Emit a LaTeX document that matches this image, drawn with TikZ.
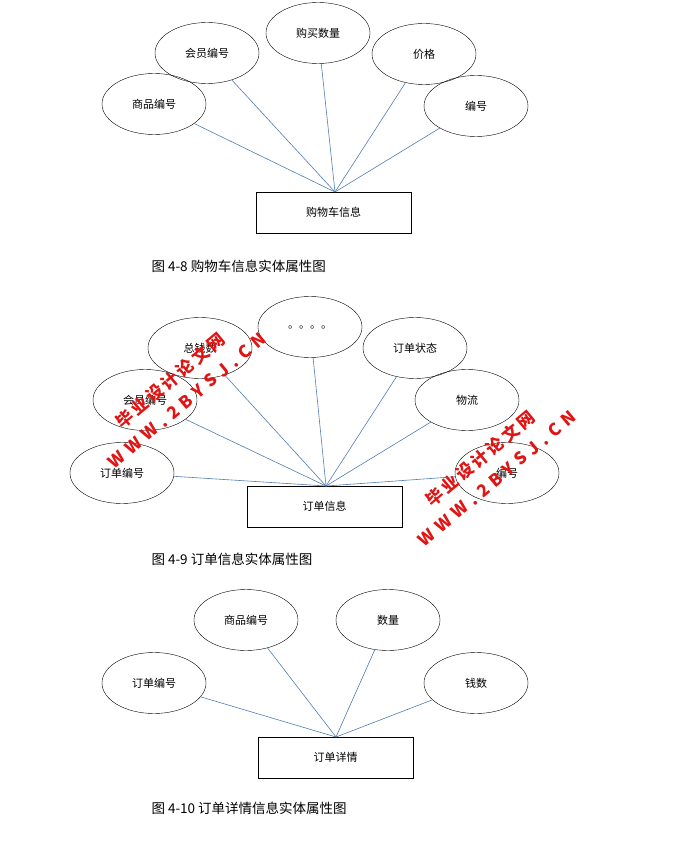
\documentclass[tikz,border=0pt]{standalone}
\usepackage{fontspec}
\setmainfont{Noto Sans CJK SC}
\usetikzlibrary{shapes.geometric}
\definecolor{linkc}{RGB}{80,126,180}
\definecolor{wmred}{RGB}{225,20,20}
\begin{document}
\begin{tikzpicture}[x=1pt,y=-1pt,
  attr/.style={draw,ellipse,minimum width=104pt,minimum height=61pt,inner sep=0pt,font=\fontsize{11}{13}\selectfont},
  ent/.style={draw,rectangle,minimum width=155pt,minimum height=41pt,font=\fontsize{11}{13}\selectfont},
  link/.style={draw=linkc,line width=0.6pt},
  captext/.style={anchor=west,font=\fontsize{13.5}{16}\selectfont},
  wm/.style={text=wmred,font=\bfseries\fontsize{17}{26}\selectfont,rotate=40,align=center}]
\path[fill=white] (0,0) rectangle (674,858);
% diagram 1
\node[attr] (a1) at (207,53) {会员编号};
\node[attr] (a2) at (318,33) {购买数量};
\node[attr] (a3) at (424,54) {价格};
\node[attr] (a4) at (154,104) {商品编号};
\node[attr] (a5) at (476,106) {编号};
\node[ent] (e1) at (333.5,212.5) {购物车信息};
\coordinate (c1) at (335,192);
\foreach \n in {a1,a2,a3,a4,a5} \draw[link] (c1) -- (\n);
\node[captext] (t1) at (148,266) {图 4-8 购物车信息实体属性图};
% diagram 2
\node[attr] (b1) at (200,348) {总钱数};
\node[attr] (b2) at (310,327) {。。。。};
\node[attr] (b3) at (415,348) {订单状态};
\node[attr] (b4) at (145,400) {会员编号};
\node[attr] (b5) at (467,400) {物流};
\node[attr] (b6) at (122,473) {订单编号};
\node[attr] (b7) at (507,473) {编号};
\node[ent] (e2) at (324.5,506.5) {订单信息};
\coordinate (c2) at (326,486);
\foreach \n in {b1,b2,b3,b4,b5,b6,b7} \draw[link] (c2) -- (\n);
\node[captext] (t2) at (148,559) {图 4-9 订单信息实体属性图};
% diagram 3
\node[attr] (d1) at (246,620) {商品编号};
\node[attr] (d2) at (388,620) {数量};
\node[attr] (d3) at (154,683) {订单编号};
\node[attr] (d4) at (476,683) {钱数};
\node[ent] (e3) at (335.5,757.5) {订单详情};
\coordinate (c3) at (336,737);
\foreach \n in {d1,d2,d3,d4} \draw[link] (c3) -- (\n);
\node[captext] (t3) at (148,808) {图 4-10 订单详情信息实体属性图};
% watermarks
\node[wm] (w1) at (178,390) {毕\,业\,设\,计\,论\,文\,网\\W\,\,W\,\,W\,\,.\,\,2\,\,B\,\,Y\,\,S\,\,J\,\,.\,\,C\,\,N};
\node[wm] (w2) at (488,468) {毕\,业\,设\,计\,论\,文\,网\\W\,\,W\,\,W\,\,.\,\,2\,\,B\,\,Y\,\,S\,\,J\,\,.\,\,C\,\,N};
\end{tikzpicture}
\end{document}
